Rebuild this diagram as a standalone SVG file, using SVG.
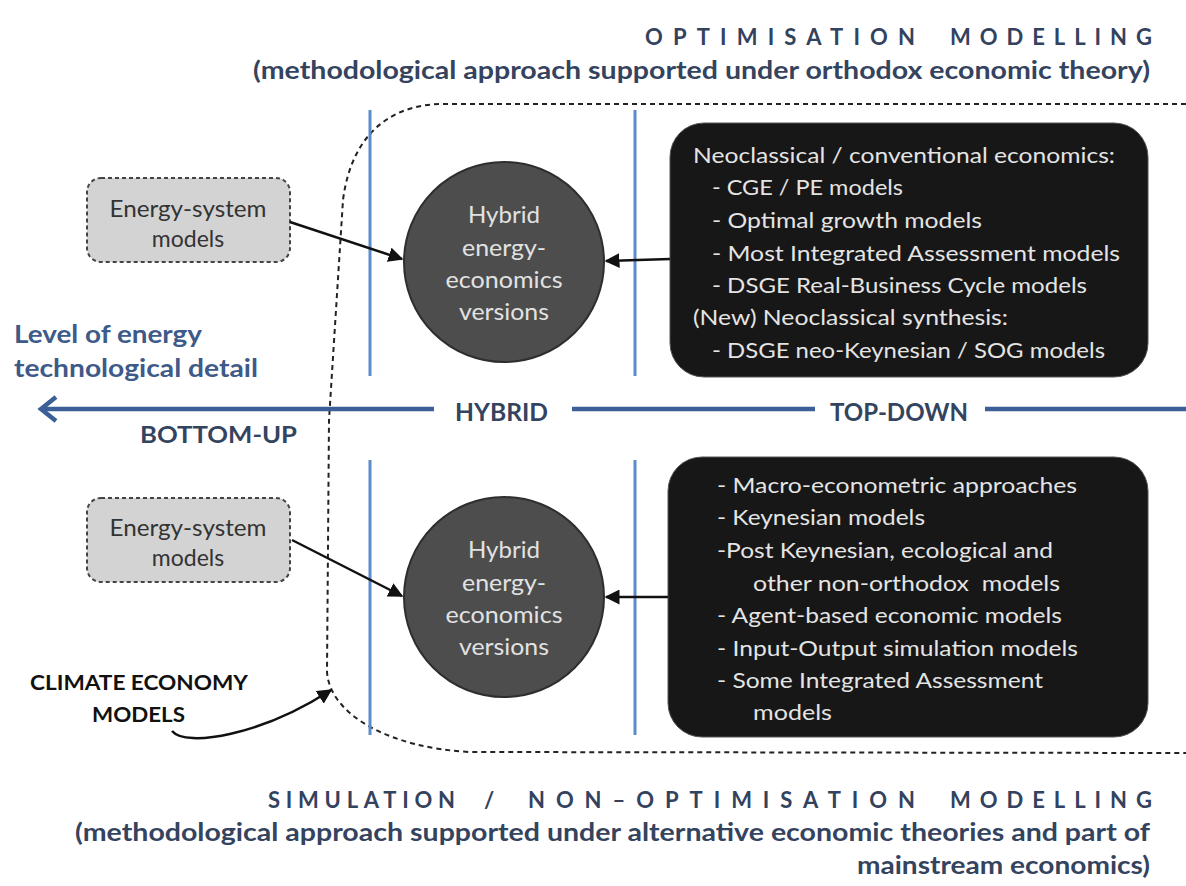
<svg xmlns="http://www.w3.org/2000/svg" width="1186" height="886" viewBox="0 0 1186 886">
<defs>
<style>
.title{font-family:Lato,"Liberation Sans",sans-serif;font-weight:bold;font-size:22px;fill:#33425e}
.sub{font-family:Lato,"Liberation Sans",sans-serif;font-weight:bold;font-size:25px;fill:#34435e}
.axis{font-family:Lato,"Liberation Sans",sans-serif;font-weight:bold;fill:#34445f}
.lvl{font-family:Lato,"Liberation Sans",sans-serif;font-weight:bold;font-size:24px;fill:#3d5a88}
.box{font-family:Lato,"Liberation Sans",sans-serif;font-size:22px;fill:#e4e4e4}
.circ{font-family:Lato,"Liberation Sans",sans-serif;font-size:23px;fill:#e2e2e2;text-anchor:middle}
.es{font-family:Lato,"Liberation Sans",sans-serif;font-size:23px;fill:#333;text-anchor:middle}
.cem{font-family:Lato,"Liberation Sans",sans-serif;font-weight:bold;font-size:21px;fill:#111}
.blue{stroke:#5b8ccc;stroke-width:3;fill:none}
.axisline{stroke:#3b5f96;stroke-width:4.5;fill:none}
.conn{stroke:#111;stroke-width:2.5;fill:none}
.hybrid{fill:#4d4d4d;stroke:#2e2e2e;stroke-width:2}
.black{fill:#171717;stroke:#555;stroke-width:1}
.esbox{fill:#d3d3d3;stroke:#444;stroke-width:2;stroke-dasharray:4 3}
</style>
<marker id="ah" viewBox="0 0 10 10" refX="9" refY="5" markerWidth="6" markerHeight="6" markerUnits="strokeWidth" orient="auto">
<path d="M0,0 L10,5 L0,10 z" fill="#111"/>
</marker>
</defs>
<rect width="1186" height="886" fill="#ffffff"/>

<g id="titles">
<text class="title"><tspan x="645" y="45" textLength="270" lengthAdjust="spacing">OPTIMISATION</tspan><tspan x="950" y="45" textLength="202" lengthAdjust="spacing">MODELLING</tspan></text>
<text class="sub" x="253" y="79" textLength="897" lengthAdjust="spacingAndGlyphs">(methodological approach supported under orthodox economic theory)</text>
<text class="title"><tspan x="268" y="808" textLength="187" lengthAdjust="spacing">SIMULATION</tspan><tspan x="484" y="808">/</tspan><tspan x="528" y="808" textLength="387" lengthAdjust="spacing">NON–OPTIMISATION</tspan><tspan x="950" y="808" textLength="202" lengthAdjust="spacing">MODELLING</tspan></text>
<text class="sub" x="75" y="841" textLength="1075" lengthAdjust="spacingAndGlyphs">(methodological approach supported under alternative economic theories and part of</text>
<text class="sub" x="857" y="874" textLength="293" lengthAdjust="spacingAndGlyphs">mainstream economics)</text>
</g>

<g id="boundary">
<path d="M1186,104 L440,104 C395,105 352,130 343,200 L329,420 L327,672 C330,715 390,748 470,752 L1186,753" fill="none" stroke="#222" stroke-width="2" stroke-dasharray="5 4"/>
</g>

<g id="dividers">
<line class="blue" x1="370" y1="110" x2="370" y2="376"/>
<line class="blue" x1="635" y1="110" x2="635" y2="376"/>
<line class="blue" x1="370" y1="460" x2="370" y2="735"/>
<line class="blue" x1="635" y1="460" x2="635" y2="735"/>
</g>

<g id="axis">
<line class="axisline" x1="41" y1="409" x2="434" y2="409"/>
<polyline class="axisline" points="56,397 41,409 56,421" stroke-linejoin="miter"/>
<line class="axisline" x1="572" y1="409" x2="815" y2="409"/>
<line class="axisline" x1="985" y1="409" x2="1186" y2="409"/>
<text class="axis" x="455" y="421" font-size="25" textLength="93" lengthAdjust="spacingAndGlyphs">HYBRID</text>
<text class="axis" x="830" y="421" font-size="25" textLength="138" lengthAdjust="spacingAndGlyphs">TOP-DOWN</text>
<text class="axis" x="140" y="443" font-size="22" textLength="157" lengthAdjust="spacingAndGlyphs">BOTTOM-UP</text>
<text class="lvl" x="14" y="343" textLength="188" lengthAdjust="spacingAndGlyphs">Level of energy</text>
<text class="lvl" x="14" y="377" textLength="244" lengthAdjust="spacingAndGlyphs">technological detail</text>
</g>

<g id="es-top">
<rect class="esbox" x="87" y="178" width="203" height="84" rx="14"/>
<text class="es" x="188" y="217" textLength="157" lengthAdjust="spacingAndGlyphs">Energy-system</text>
<text class="es" x="188" y="247">models</text>
</g>

<g id="hybrid-top">
<circle class="hybrid" cx="504" cy="262" r="100"/>
<text class="circ" x="504" y="223" textLength="72" lengthAdjust="spacingAndGlyphs">Hybrid</text>
<text class="circ" x="504" y="256" textLength="84" lengthAdjust="spacingAndGlyphs">energy-</text>
<text class="circ" x="504" y="288" textLength="117" lengthAdjust="spacingAndGlyphs">economics</text>
<text class="circ" x="504" y="320" textLength="90" lengthAdjust="spacingAndGlyphs">versions</text>
</g>

<g id="box-top">
<rect class="black" x="670" y="123" width="478" height="254" rx="34"/>
<text class="box" x="693" y="163" textLength="422" lengthAdjust="spacingAndGlyphs">Neoclassical / conventional economics:</text>
<text class="box" x="712" y="195" textLength="191" lengthAdjust="spacingAndGlyphs">- CGE / PE models</text>
<text class="box" x="712" y="228" textLength="270" lengthAdjust="spacingAndGlyphs">- Optimal growth models</text>
<text class="box" x="712" y="261" textLength="408" lengthAdjust="spacingAndGlyphs">- Most Integrated Assessment models</text>
<text class="box" x="712" y="293" textLength="375" lengthAdjust="spacingAndGlyphs">- DSGE Real-Business Cycle models</text>
<text class="box" x="693" y="325" textLength="315" lengthAdjust="spacingAndGlyphs">(New) Neoclassical synthesis:</text>
<text class="box" x="712" y="358" textLength="393" lengthAdjust="spacingAndGlyphs">- DSGE neo-Keynesian / SOG models</text>
</g>

<g id="es-bottom">
<rect class="esbox" x="87" y="498" width="203" height="84" rx="14"/>
<text class="es" x="188" y="536" textLength="157" lengthAdjust="spacingAndGlyphs">Energy-system</text>
<text class="es" x="188" y="566">models</text>
</g>

<g id="hybrid-bottom">
<circle class="hybrid" cx="504" cy="597" r="100"/>
<text class="circ" x="504" y="558" textLength="72" lengthAdjust="spacingAndGlyphs">Hybrid</text>
<text class="circ" x="504" y="591" textLength="84" lengthAdjust="spacingAndGlyphs">energy-</text>
<text class="circ" x="504" y="623" textLength="117" lengthAdjust="spacingAndGlyphs">economics</text>
<text class="circ" x="504" y="655" textLength="90" lengthAdjust="spacingAndGlyphs">versions</text>
</g>

<g id="box-bottom">
<rect class="black" x="668" y="457" width="480" height="280" rx="34"/>
<text class="box" x="717" y="493" textLength="360" lengthAdjust="spacingAndGlyphs">- Macro-econometric approaches</text>
<text class="box" x="717" y="525" textLength="208" lengthAdjust="spacingAndGlyphs">- Keynesian models</text>
<text class="box" x="717" y="558" textLength="336" lengthAdjust="spacingAndGlyphs">-Post Keynesian, ecological and</text>
<text class="box" x="753" y="591" textLength="307" lengthAdjust="spacingAndGlyphs" xml:space="preserve">other non-orthodox  models</text>
<text class="box" x="717" y="623" textLength="345" lengthAdjust="spacingAndGlyphs">- Agent-based economic models</text>
<text class="box" x="717" y="656" textLength="361" lengthAdjust="spacingAndGlyphs">- Input-Output simulation models</text>
<text class="box" x="717" y="688" textLength="326" lengthAdjust="spacingAndGlyphs">- Some Integrated Assessment</text>
<text class="box" x="753" y="720" textLength="79" lengthAdjust="spacingAndGlyphs">models</text>
</g>

<g id="climate-label">
<text class="cem" x="30" y="690" textLength="218" lengthAdjust="spacingAndGlyphs">CLIMATE ECONOMY</text>
<text class="cem" x="92" y="722" textLength="93" lengthAdjust="spacingAndGlyphs">MODELS</text>
</g>

<g id="connectors">
<line class="conn" x1="290" y1="222" x2="402" y2="259" marker-end="url(#ah)"/>
<line class="conn" x1="670" y1="259" x2="606" y2="261" marker-end="url(#ah)"/>
<line class="conn" x1="292" y1="540" x2="402" y2="596" marker-end="url(#ah)"/>
<line class="conn" x1="668" y1="597" x2="606" y2="597" marker-end="url(#ah)"/>
<path class="conn" d="M172,731 C186,748 262,735 331,690" marker-end="url(#ah)"/>
</g>
</svg>
